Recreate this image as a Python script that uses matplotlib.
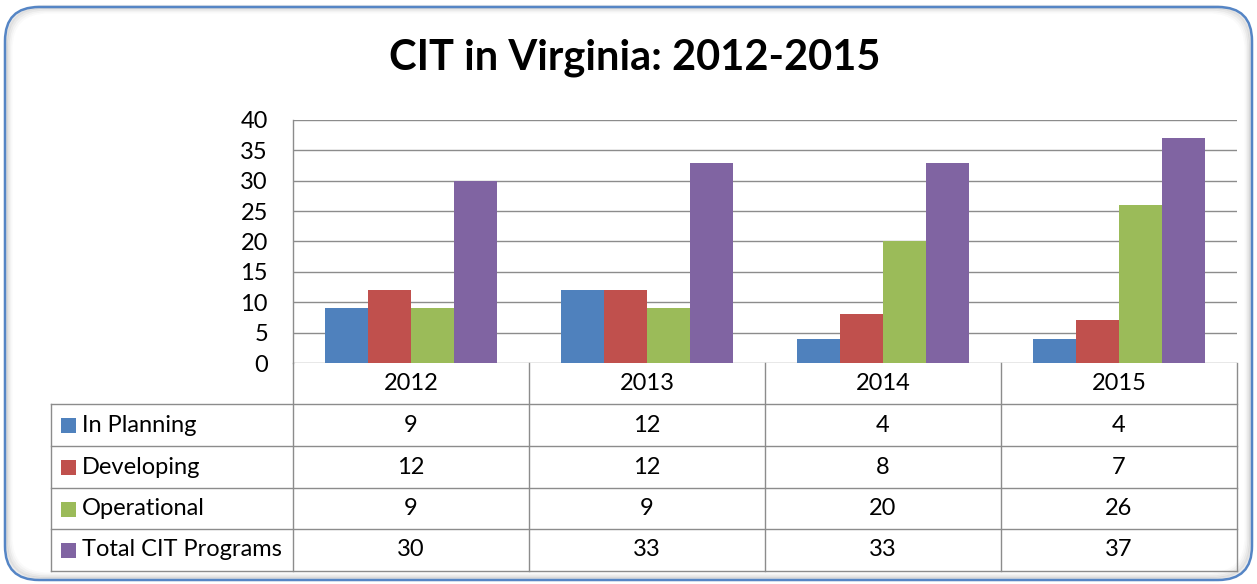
import matplotlib
matplotlib.use("Agg")
import matplotlib.pyplot as plt
from matplotlib.patches import FancyBboxPatch, Rectangle
from matplotlib.lines import Line2D
import numpy as np

years = ["2012", "2013", "2014", "2015"]
series_names = ["In Planning", "Developing", "Operational", "Total CIT Programs"]
in_planning = [9, 12, 4, 4]
developing = [12, 12, 8, 7]
operational = [9, 9, 20, 26]
total_cit = [30, 33, 33, 37]
colors = ["#4F81BD", "#C0504D", "#9BBB59", "#8064A2"]
title = "CIT in Virginia: 2012-2015"
yticks = [0, 5, 10, 15, 20, 25, 30, 35, 40]

series = [in_planning, developing, operational, total_cit]

W, H = 1257, 584
plt.rcParams['font.family'] = ['Lato', 'DejaVu Sans']
fig = plt.figure(figsize=(W / 100, H / 100), dpi=100)

def fx(px):
    return px / W

def fy(py):
    return 1 - py / H

# Border with soft shadow
for i, a in enumerate([0.10, 0.07, 0.045, 0.025]):
    sh = FancyBboxPatch((fx(6 + 1.5 * i), fy(579 - 1.5 * i)),
                        fx(1245 - 3 * i), (572 - 3 * i) / H,
                        boxstyle="round,pad=0,rounding_size=0.03",
                        transform=fig.transFigure, facecolor="none",
                        edgecolor=(0.3, 0.3, 0.3, a), linewidth=3, zorder=1,
                        mutation_aspect=W / H)
    fig.patches.append(sh)
border = FancyBboxPatch((fx(5), fy(580)), fx(1247), 573 / H,
                        boxstyle="round,pad=0,rounding_size=0.027",
                        transform=fig.transFigure, facecolor="none",
                        edgecolor="#5585C5", linewidth=1.8, zorder=2,
                        mutation_aspect=W / H)
fig.patches.append(border)

# Title
fig.text(fx(635), fy(58), title, ha="center", va="center",
         fontsize=30, fontweight="bold", color="black")

# Plot area
x0, x1 = 293, 1237
ytop, ybot = 120, 363
ax = fig.add_axes([fx(x0), fy(ybot), fx(x1 - x0), (ybot - ytop) / H])
n = len(years)
bw = 1 / 5.5
x = np.arange(n)
for i, (vals, c) in enumerate(zip(series, colors)):
    ax.bar(x + (i - 1.5) * bw, vals, width=bw, color=c, zorder=3, linewidth=0)
ax.set_xlim(-0.5, n - 0.5)
ax.set_ylim(0, 40)
ax.set_yticks(yticks)
ax.set_yticklabels([str(t) for t in yticks], fontsize=17)
ax.tick_params(axis="y", length=0, pad=18)
ax.set_xticks([])
ax.yaxis.grid(True, color="#8C8C8C", linewidth=1)
ax.set_axisbelow(True)
for s in ["right", "bottom", "top"]:
    ax.spines[s].set_visible(False)
ax.spines["left"].set_color("#8C8C8C")
ax.spines["left"].set_linewidth(1)
ax.patch.set_alpha(0)

# Data table
gc = "#8C8C8C"
row_edges = [363, 404, 446, 488, 529, 571]
col_edges = [293, 529, 765, 1001, 1237]
tl = 51

def hline(xa, xb, y):
    fig.add_artist(Line2D([fx(xa), fx(xb)], [fy(y), fy(y)], color=gc, lw=1,
                          transform=fig.transFigure))

def vline(xx, ya, yb):
    fig.add_artist(Line2D([fx(xx), fx(xx)], [fy(ya), fy(yb)], color=gc, lw=1,
                          transform=fig.transFigure))

for y in row_edges[1:]:
    hline(tl, col_edges[-1], y)
for xx in col_edges:
    vline(xx, row_edges[0], row_edges[-1])
vline(tl, row_edges[1], row_edges[-1])

# header years
for j, yr in enumerate(years):
    cx = (col_edges[j] + col_edges[j + 1]) / 2
    fig.text(fx(cx), fy((row_edges[0] + row_edges[1]) / 2), yr,
             ha="center", va="center", fontsize=17)

for i, (name, vals, c) in enumerate(zip(series_names, series, colors)):
    cy = (row_edges[i + 1] + row_edges[i + 2]) / 2
    fig.patches.append(Rectangle((fx(61), fy(cy + 8)), fx(15), 15 / H,
                                 transform=fig.transFigure, facecolor=c,
                                 edgecolor="none"))
    fig.text(fx(82), fy(cy), name, ha="left", va="center", fontsize=17)
    for j, v in enumerate(vals):
        cx = (col_edges[j] + col_edges[j + 1]) / 2
        fig.text(fx(cx), fy(cy), str(v), ha="center", va="center", fontsize=17)

fig.savefig("out.png", dpi=100)
